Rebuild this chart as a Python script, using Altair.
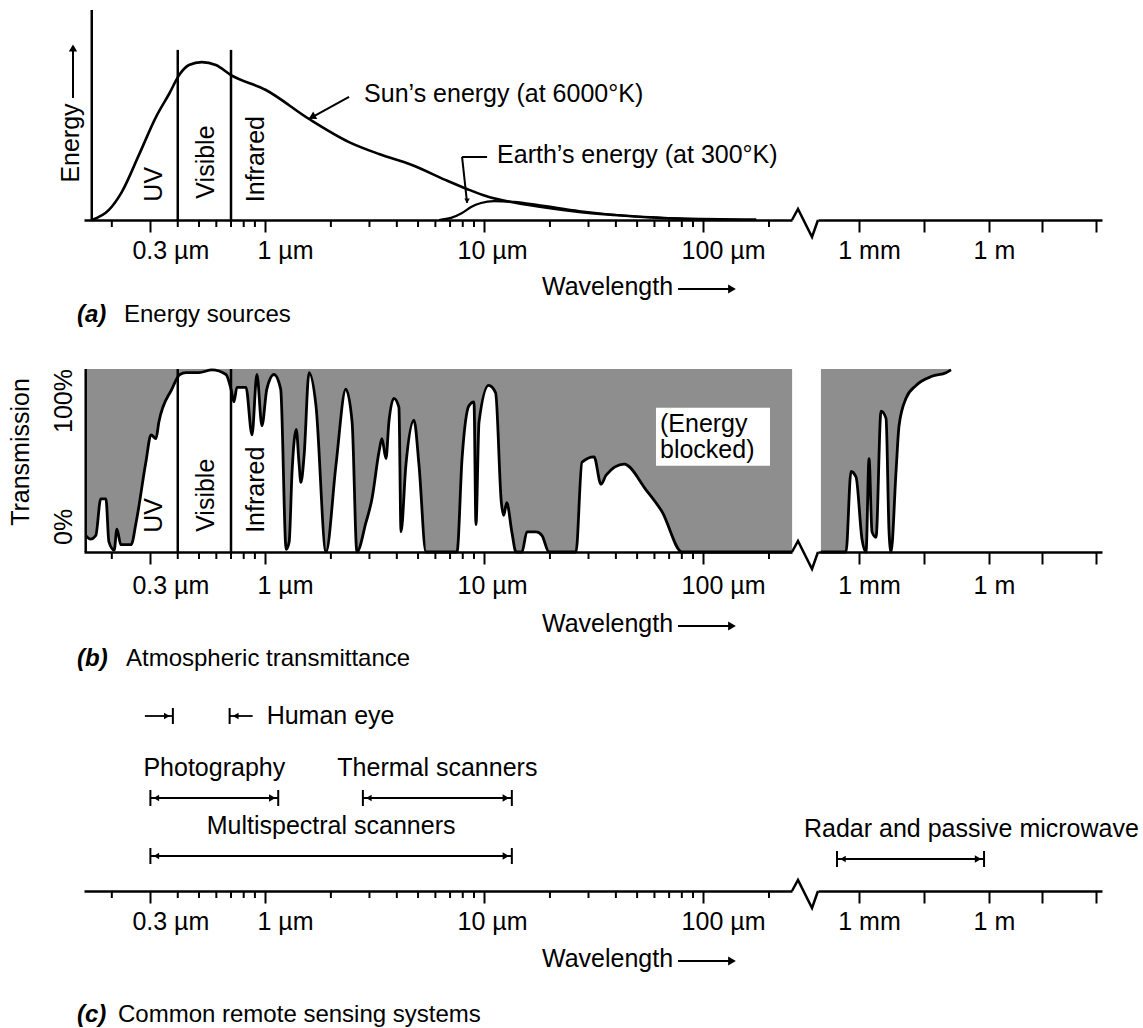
import altair as alt
import pandas as pd

FONT = "Liberation Sans"
INK = "#000000"
SHADE = "#8e8e8e"
FS = 25

# ---------------------------------------------------------------- data
# (a) emission curves: wavelength in micrometres, energy in relative units
sun_wl = [0.162, 0.194, 0.222, 0.266, 0.318, 0.365, 0.409, 0.450, 0.515, 0.597,
          0.700, 1.01, 1.59, 2.42, 3.32, 4.69, 6.70, 8.36, 10.2, 16.0, 27.2,
          45.9, 77.6, 175.0]
sun_energy = [0, 4.8, 13.3, 31.0, 49.0, 60.0, 69.5, 73.8, 75.2, 73.8,
              69.0, 61.9, 48.1, 37.1, 31.4, 26.2, 19.0, 14.8, 11.4, 7.1, 3.8,
              1.9, 0.7, 0.2]
earth_wl = [6.23, 7.07, 7.94, 8.73, 9.69, 11.1, 13.7, 17.8, 27.2, 45.9, 77.6, 118.0]
earth_energy = [0, 1.0, 3.3, 6.2, 8.1, 9.0, 8.6, 7.1, 4.3, 1.9, 0.7, 0.2]

# (b) atmospheric transmission (%) up to the axis break ...
atm_wl = [0.152, 0.160, 0.169, 0.178, 0.188, 0.194, 0.205, 0.211, 0.220, 0.245,
          0.258, 0.286, 0.302, 0.318, 0.328, 0.376, 0.409, 0.436, 0.500, 0.573,
          0.664, 0.700, 0.722, 0.745, 0.819, 0.873, 0.919, 0.969, 1.02, 1.10,
          1.18, 1.25, 1.29, 1.33, 1.39, 1.43, 1.46, 1.51, 1.59, 1.71,
          1.90, 2.11, 2.34, 2.50, 2.63, 2.89, 3.08, 3.32, 3.42, 3.57,
          3.68, 3.88, 4.09, 4.18, 4.40, 4.79, 5.05, 5.43, 7.53, 7.94,
          8.54, 9.00, 9.19, 9.49, 10.5, 11.3, 12.0, 12.3, 12.7, 13.4,
          14.0, 14.9, 15.7, 17.3, 18.4, 19.8, 26.3, 28.0, 31.8, 34.2,
          36.1, 43.6, 54.9, 65.0, 80.2, 255.0]
atm_trans = [9, 7, 9, 29, 29, 5.5, 1, 12.5, 4, 4,
             16, 49, 64, 62, 71, 89, 97, 98, 98, 99.5,
             97, 89, 82, 90, 90, 64, 97, 69, 89, 97,
             89, 1.5, 5.5, 44, 67, 49, 38, 53, 98, 80,
             0, 47.5, 89, 71, 0, 16, 29, 55, 62, 51,
             71, 84, 79, 11, 47.5, 72, 47.5, 0, 0, 51,
             80, 82, 15, 71, 91, 87, 27, 20, 27, 11,
             0, 0, 11, 11, 9, 0, 0, 49, 52, 37,
             42, 48, 34, 22, 0, 0]
# ... and beyond it (microwave side)
atm_far_wl = [132, 501, 653, 853, 1172, 1452, 1703, 1995, 2470, 3224,
              4207, 4934, 5483, 7157, 8395, 12170, 20700, 48500, 102000, 133000]
atm_far_trans = [0, 0, 44, 41, 7, 0, 51, 11, 8, 77,
                 73, 11, 0, 44, 69, 84, 91, 96, 98, 99.5]

# spectral regions
band_edges = [0.4, 0.7]
band_names = ["UV", "Visible", "Infrared"]
band_label_wl = [0.311, 0.538, 0.909]
band_label_energy = [17, 27.6, 29]
band_label_trans = [20, 31, 34]

# (c) remote sensing systems, ranges in micrometres
upper_systems = ["Photography", "Thermal scanners"]
upper_start = [0.3, 2.8]
upper_end = [1.15, 13.4]
lower_systems = ["Multispectral scanners"]
lower_start = [0.3]
lower_end = [13.4]
radar_systems = ["Radar and passive microwave"]
radar_start = [310.0]
radar_end = [7.7e5]
eye_name = ["Human eye"]
eye_lo = [0.38]
eye_hi = [0.69]

# axis ticks
left_major = [0.3, 1, 10, 100]
left_major_labels = ["0.3 µm", "1 µm", "10 µm", "100 µm"]
left_minor = [0.2, 0.4, 0.5, 0.6, 0.7, 0.8, 0.9, 2, 3, 4, 5, 6, 7, 8, 9,
              20, 30, 40, 50, 60, 70, 80, 90, 200]
right_ticks = [1e3, 3.16e4, 1e6, 1.66e7, 2.95e8]
right_tick_labels = ["1 mm", "", "1 m", "", ""]

# ---------------------------------------------------------------- layout
LEFT_W, RIGHT_W = 708, 284
H_A, H_B, H_C = 210, 183, 190
left_x = alt.Scale(type="log", domain=[0.1493, 254.7], nice=False)
right_x = alt.Scale(type="log", domain=[113.0, 4.07e8], nice=False)
pct = alt.Scale(domain=[0, 100], nice=False)
ONE = alt.Data(values=[{}])


def label_expr(values, labels):
    parts = [f"datum.value == {v} ? '{t}'" for v, t in zip(values, labels) if t]
    return " : ".join(parts) + " : ''"


def wl_axis(values, labels, offset, pad):
    return alt.Axis(values=values, labelExpr=label_expr(values, labels), title=None,
                    grid=False, domainColor=INK, domainWidth=2.5, tickColor=INK,
                    tickWidth=2, tickSize=12, labelFont=FONT, labelFontSize=FS,
                    labelColor=INK, labelPadding=pad, labelOffset=offset,
                    labelFlush=False, labelOverlap=False, labelBound=False)


def left_axis(pad):
    off = {"condition": {"test": "datum.value == 10", "value": 8}, "value": 20}
    return wl_axis(left_major, left_major_labels, off, pad)


def right_axis(pad):
    off = {"condition": {"test": "datum.value == 1000", "value": 10}, "value": 5}
    return wl_axis(right_ticks, right_tick_labels, off, pad)


def text(t, x, y, size=FS, align="left", angle=0, style="normal", weight="normal"):
    return alt.Chart(ONE).mark_text(
        text=t, font=FONT, fontSize=size, fontStyle=style, fontWeight=weight,
        align=align, baseline="middle", angle=angle, color=INK
    ).encode(x=alt.value(x), y=alt.value(y))


def arrow(x1, y1, x2, y2, shape, size=70, width=2):
    line = alt.Chart(ONE).mark_rule(color=INK, strokeWidth=width).encode(
        x=alt.value(x1), x2=alt.value(x2), y=alt.value(y1), y2=alt.value(y2))
    head = alt.Chart(ONE).mark_point(shape=shape, filled=True, size=size,
                                     color=INK, opacity=1).encode(
        x=alt.value(x2), y=alt.value(y2))
    return [line, head]


BREAK_PATH = "M-1,0L-0.54,-0.85L0.54,1.31L1,0"


def axis_break(h):
    return alt.Chart(ONE).mark_point(shape=BREAK_PATH, size=676, filled=False,
                                     color=INK, strokeWidth=2.5, opacity=1).encode(
        x=alt.value(-13), y=alt.value(h))


def minor_ticks(h, axis):
    return alt.Chart(pd.DataFrame({"v": left_minor})).mark_rule(
        color=INK, strokeWidth=2).encode(
        x=alt.X("v:Q", scale=left_x, axis=axis), y=alt.value(h), y2=alt.value(h + 7))


def axis_carrier(h, axis):
    return alt.Chart(pd.DataFrame({"v": right_ticks})).mark_rule(opacity=0).encode(
        x=alt.X("v:Q", scale=right_x, axis=axis), y=alt.value(h), y2=alt.value(h))


def wavelength_title(y):
    return [text("Wavelength", 458, y)] + arrow(594, y + 2, 648, y + 2, "triangle-right", 80)


def caption(tag, words, y, gap):
    return [text(tag, -7, y, size=24, style="italic", weight="bold"),
            text(words, gap, y, size=24)]


sun_df = pd.DataFrame({"wl": sun_wl, "e": sun_energy})
earth_df = pd.DataFrame({"wl": earth_wl, "e": earth_energy})
atm_df = pd.DataFrame({"wl": atm_wl, "t": atm_trans})
far_df = pd.DataFrame({"wl": atm_far_wl, "t": atm_far_trans})
edges_df = pd.DataFrame({"wl": band_edges})
bands_df = pd.DataFrame({"wl": band_label_wl, "name": band_names,
                         "e": band_label_energy, "t": band_label_trans})

# ---------------------------------------------------------------- (a)
AX_A = left_axis(6)
XA = lambda f: alt.X(f, type="quantitative", scale=left_x, axis=AX_A)
YA = lambda f: alt.Y(f, type="quantitative", scale=pct, axis=None)

sun_tip = alt.Chart(sun_df).transform_filter("datum.wl == 1.59")
earth_tip = alt.Chart(earth_df).transform_filter("datum.wl == 8.73")

left_a = alt.layer(
    minor_ticks(H_A, AX_A),
    alt.Chart(sun_df.head(1)).mark_rule(color=INK, strokeWidth=2.5).encode(
        x=XA("wl"), y=alt.YDatum(0, scale=pct, axis=None), y2=alt.Y2Datum(100)),
    alt.Chart(edges_df).mark_rule(color=INK, strokeWidth=2.5).encode(
        x=XA("wl"), y=alt.YDatum(0, scale=pct, axis=None), y2=alt.Y2Datum(81)),
    alt.Chart(sun_df).mark_line(color=INK, strokeWidth=2.6, interpolate="monotone").encode(
        x=XA("wl"), y=YA("e")),
    alt.Chart(earth_df).mark_line(color=INK, strokeWidth=2.2, interpolate="monotone").encode(
        x=XA("wl"), y=YA("e")),
    # pointer to the solar curve
    sun_tip.mark_rule(color=INK, strokeWidth=2, x2Offset=40, y2Offset=-22).encode(
        x=XA("wl"), x2="wl", y=YA("e"), y2="e"),
    sun_tip.mark_point(shape="triangle-up", filled=True, size=70, angle=241,
                       color=INK, opacity=1, xOffset=3, yOffset=-2).encode(
        x=XA("wl"), y=YA("e")),
    sun_tip.mark_text(text="Sun\u2019s energy (at 6000\u00b0K)", font=FONT, fontSize=FS,
                      align="left", baseline="middle", dx=55, dy=-25, color=INK).encode(
        x=XA("wl"), y=YA("e")),
    # elbow leader to the terrestrial curve
    earth_tip.mark_rule(color=INK, strokeWidth=2, xOffset=-4, yOffset=-4,
                        x2Offset=-9, y2Offset=-50).encode(
        x=XA("wl"), x2="wl", y=YA("e"), y2="e"),
    earth_tip.mark_rule(color=INK, strokeWidth=2, xOffset=-9, yOffset=-50,
                        x2Offset=16, y2Offset=-50).encode(
        x=XA("wl"), x2="wl", y=YA("e"), y2="e"),
    earth_tip.mark_point(shape="triangle-down", filled=True, size=30, color=INK,
                         opacity=1, xOffset=-4, yOffset=-6).encode(
        x=XA("wl"), y=YA("e")),
    earth_tip.mark_text(text="Earth\u2019s energy (at 300\u00b0K)", font=FONT, fontSize=FS,
                        align="left", baseline="middle", dx=26, dy=-52, color=INK).encode(
        x=XA("wl"), y=YA("e")),
    alt.Chart(bands_df).mark_text(font=FONT, fontSize=FS, angle=270, align="center",
                                  baseline="middle", color=INK).encode(
        x=XA("wl"), y=YA("e"), text="name:N"),
    text("Energy", -13, 133, angle=270, align="center"),
    *arrow(-11, 88, -11, 38, "triangle-up", 70),
    *wavelength_title(277),
    *caption("(a)", "Energy sources", 305, 40),
).properties(width=LEFT_W, height=H_A)

AX_AR = right_axis(6)
right_a = alt.layer(
    axis_carrier(H_A, AX_AR),
    axis_break(H_A),
).properties(width=RIGHT_W, height=H_A)

# ---------------------------------------------------------------- (b)
AX_B = left_axis(9)
XB = lambda f: alt.X(f, type="quantitative", scale=left_x, axis=AX_B)
YB = lambda f: alt.Y(f, type="quantitative", scale=pct, axis=None)

left_b = alt.layer(
    minor_ticks(H_B, AX_B),
    alt.Chart(atm_df).mark_area(color=SHADE, interpolate="monotone").encode(
        x=XB("wl"), y=YB("t"), y2=alt.Y2Datum(100)),
    alt.Chart(atm_df).mark_line(color=INK, strokeWidth=2.8, interpolate="monotone").encode(
        x=XB("wl"), y=YB("t")),
    alt.Chart(atm_df.head(1)).mark_rule(color=INK, strokeWidth=2.5).encode(
        x=XB("wl"), y=alt.YDatum(0, scale=pct, axis=None), y2=alt.Y2Datum(100)),
    alt.Chart(edges_df).mark_rule(color=INK, strokeWidth=2.5).encode(
        x=XB("wl"), y=alt.YDatum(0, scale=pct, axis=None), y2=alt.Y2Datum(100)),
    alt.Chart(bands_df).mark_text(font=FONT, fontSize=FS, angle=270, align="center",
                                  baseline="middle", color=INK).encode(
        x=XB("wl"), y=YB("t"), text="name:N"),
    # note box in the absorbed region
    alt.Chart(ONE).mark_point(shape="M-1,-0.51L1,-0.51L1,0.51L-1,0.51Z", size=12996,
                              filled=True, color="white", opacity=1).encode(
        x=alt.XDatum(111, scale=left_x, axis=AX_B), y=alt.YDatum(63, scale=pct, axis=None)),
    alt.Chart(ONE).mark_text(text="(Energy\nblocked)", lineBreak="\n", lineHeight=26,
                             font=FONT, fontSize=FS, align="left", baseline="middle",
                             dx=-53, dy=-13, color=INK).encode(
        x=alt.XDatum(111, scale=left_x, axis=AX_B), y=alt.YDatum(63, scale=pct, axis=None)),
    text("Transmission", -63, 83, angle=270, align="center"),
    text("100%", -20, 0, angle=270, align="right"),
    text("0%", -20, 176, angle=270, align="left"),
    *wavelength_title(255),
    *caption("(b)", "Atmospheric transmittance", 290, 42),
).properties(width=LEFT_W, height=H_B)

AX_BR = right_axis(9)
XBR = lambda f: alt.X(f, type="quantitative", scale=right_x, axis=AX_BR)
right_b = alt.layer(
    alt.Chart(far_df).mark_area(color=SHADE, interpolate="monotone").encode(
        x=XBR("wl"), y=YB("t"), y2=alt.Y2Datum(100)),
    alt.Chart(far_df).mark_line(color=INK, strokeWidth=2.8, interpolate="monotone").encode(
        x=XBR("wl"), y=YB("t")),
    axis_break(H_B),
).properties(width=RIGHT_W, height=H_B)

# ---------------------------------------------------------------- (c)
AX_C = left_axis(6)
AX_CR = right_axis(6)


def spans(df, y, scale, axis, centred=True):
    X = lambda f: alt.X(f, type="quantitative", scale=scale, axis=axis)
    base = alt.Chart(df)
    layers = [
        base.mark_rule(color=INK, strokeWidth=1.8).encode(
            x=X("start"), x2="end", y=alt.value(y)),
        base.mark_rule(color=INK, strokeWidth=2).encode(
            x=X("start"), y=alt.value(y - 8), y2=alt.value(y + 8)),
        base.mark_rule(color=INK, strokeWidth=2).encode(
            x=X("end"), y=alt.value(y - 8), y2=alt.value(y + 8)),
        base.mark_point(shape="triangle-left", filled=True, size=40, color=INK,
                        opacity=1, xOffset=6).encode(x=X("start"), y=alt.value(y)),
        base.mark_point(shape="triangle-right", filled=True, size=55, color=INK,
                        opacity=1, xOffset=-6).encode(x=X("end"), y=alt.value(y)),
    ]
    if centred:
        layers.append(
            base.transform_calculate(mid="sqrt(datum.start * datum.end)").mark_text(
                font=FONT, fontSize=FS, align="center", baseline="middle", color=INK
            ).encode(x=X("mid"), y=alt.value(y - 30), text="system:N"))
    else:
        layers.append(
            base.mark_text(font=FONT, fontSize=FS, align="left", baseline="middle",
                           dx=-33, color=INK
                           ).encode(x=X("start"), y=alt.value(y - 30), text="system:N"))
    return layers


upper_df = pd.DataFrame({"system": upper_systems, "start": upper_start, "end": upper_end})
lower_df = pd.DataFrame({"system": lower_systems, "start": lower_start, "end": lower_end})
radar_df = pd.DataFrame({"system": radar_systems, "start": radar_start, "end": radar_end})
eye_df = pd.DataFrame({"name": eye_name, "lo": eye_lo, "hi": eye_hi})

XC = lambda f: alt.X(f, type="quantitative", scale=left_x, axis=AX_C)
EYE_Y = 15
eye = alt.Chart(eye_df)
eye_layers = [
    eye.mark_rule(color=INK, strokeWidth=2).encode(
        x=XC("lo"), y=alt.value(EYE_Y - 8), y2=alt.value(EYE_Y + 8)),
    eye.mark_rule(color=INK, strokeWidth=2).encode(
        x=XC("hi"), y=alt.value(EYE_Y - 8), y2=alt.value(EYE_Y + 8)),
    eye.mark_rule(color=INK, strokeWidth=1.8, xOffset=-28).encode(
        x=XC("lo"), x2="lo", y=alt.value(EYE_Y)),
    eye.mark_rule(color=INK, strokeWidth=1.8, x2Offset=23).encode(
        x=XC("hi"), x2="hi", y=alt.value(EYE_Y)),
    eye.mark_point(shape="triangle-right", filled=True, size=45, color=INK,
                   opacity=1, xOffset=-6).encode(x=XC("lo"), y=alt.value(EYE_Y)),
    eye.mark_point(shape="triangle-left", filled=True, size=45, color=INK,
                   opacity=1, xOffset=6).encode(x=XC("hi"), y=alt.value(EYE_Y)),
    eye.mark_text(font=FONT, fontSize=FS, align="left", baseline="middle", dx=37,
                  color=INK).encode(x=XC("hi"), y=alt.value(EYE_Y), text="name:N"),
]

left_c = alt.layer(
    minor_ticks(H_C, AX_C),
    *eye_layers,
    *spans(upper_df, 97, left_x, AX_C),
    *spans(lower_df, 155, left_x, AX_C),
    *wavelength_title(258),
    *caption("(c)", "Common remote sensing systems", 314, 34),
).properties(width=LEFT_W, height=H_C)

right_c = alt.layer(
    *spans(radar_df, 158, right_x, AX_CR, centred=False),
    axis_break(H_C),
).properties(width=RIGHT_W, height=H_C)

# ---------------------------------------------------------------- assemble
# two-column grid: left (to the axis break) and right (beyond it) for each panel
chart = alt.concat(
    left_a, right_a, left_b, right_b, left_c, right_c,
    columns=2, spacing={"row": 149, "column": 26}, bounds="flush",
).properties(
    padding={"left": 9, "top": 8, "right": 4, "bottom": 4},
    background="white",
).configure_view(stroke=None)

chart.save("out.html", embed_options={"renderer": "svg", "actions": False})
